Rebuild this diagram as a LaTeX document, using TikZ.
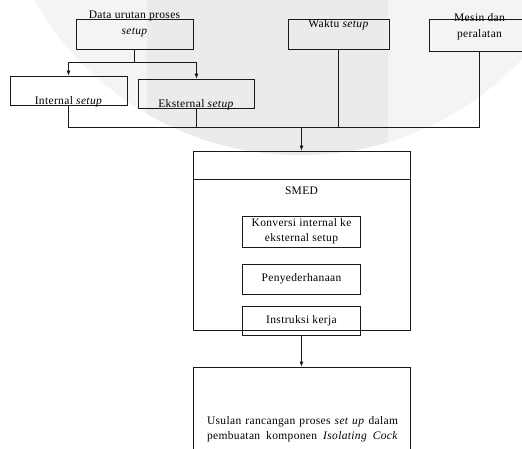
\documentclass[tikz,border=0pt]{standalone}
\usepackage{fontspec}
\setmainfont[LetterSpace=3]{Liberation Serif}
\usetikzlibrary{arrows.meta}
\begin{document}
\begin{tikzpicture}[x=1pt,y=-1pt,
  box/.style={draw=black!90, line width=0.75pt, inner sep=0pt},
  txt/.style={font=\fontsize{11.5}{15}\selectfont, inner sep=0pt, text=black},
  line/.style={draw=black!90, line width=0.75pt},
  arr/.style={draw=black!90, line width=0.75pt, -{Latex[length=5pt,width=4pt]}}]
\useasboundingbox (0,0) rectangle (522,449);
\clip (0,0) rectangle (522,449);
% faint watermark
\fill[gray!9] (300,-150) circle (305);
\begin{scope}
  \clip (300,-150) circle (305);
  \fill[gray!16] (147,0) rectangle (388,200);
\end{scope}
% boxes
\node[box, minimum width=117pt, minimum height=30pt] (data) at (134.5,34) {};
\node[box, minimum width=117pt, minimum height=29pt] (internal) at (68.5,90.5) {};
\node[box, minimum width=116pt, minimum height=29pt] (eksternal) at (196.5,93.5) {};
\node[box, minimum width=101pt, minimum height=30pt] (waktu) at (338.5,34) {};
\node[box, minimum width=101pt, minimum height=32pt] (mesin) at (479.5,35) {};
\node[box, minimum width=217pt, minimum height=179pt] (smed) at (301.5,240.5) {};
\draw[line] (smed.west |- 0,179) -- (smed.east |- 0,179);
\node[box, minimum width=118pt, minimum height=31pt] (konversi) at (301.5,231.5) {};
\node[box, minimum width=118pt, minimum height=30pt] (peny) at (301.5,279) {};
\node[box, minimum width=118pt, minimum height=29pt] (instr) at (301.5,320.5) {};
\node[box, minimum width=217pt, minimum height=103pt] (usulan) at (301.5,418.5) {};
% connectors
\coordinate (j1) at (134.5,62);
\coordinate (bus) at (301.5,127);
\draw[line] (data.south) -- (j1);
\draw[arr] (j1) -| (internal.north);
\draw[arr] (j1) -| (eksternal.north);
\draw[line] (internal.south) |- (bus);
\draw[line] (eksternal.south) -- (eksternal.south |- bus);
\draw[line] (waktu.south) -- (waktu.south |- bus);
\draw[line] (mesin.south) |- (bus);
\draw[arr] (bus) -- (smed.north);
\draw[arr] (instr.south) -- (usulan.north);
% texts
\node[txt] (tdata) at (134.5,16) {Data urutan proses};
\node[txt] (tdata2) at (134.5,32) {\textit{setup}};
\node[txt] (tint) at (68.5,102) {Internal \textit{setup}};
\node[txt] (teks) at (196,105) {Eksternal \textit{setup}};
\node[txt] (twak) at (338.5,25) {Waktu \textit{setup}};
\node[txt] (tmes) at (479.5,18) {Mesin dan};
\node[txt] (tmes2) at (479.5,35) {peralatan};
\node[txt] (tsmed) at (301.5,191) {SMED};
\node[txt, align=center] (tkon) at (301.5,231.5) {Konversi internal ke\\eksternal setup};
\node[txt] (tpeny) at (301.5,279) {Penyederhanaan};
\node[txt] (tins) at (301.5,321) {Instruksi kerja};
\node[txt] (tus1) at (302.5,422) {\makebox[191pt][s]{Usulan rancangan proses \textit{set up} dalam}};
\node[txt] (tus2) at (302.5,437) {\makebox[191pt][s]{pembuatan komponen \textit{Isolating Cock}}};
\end{tikzpicture}
\end{document}
